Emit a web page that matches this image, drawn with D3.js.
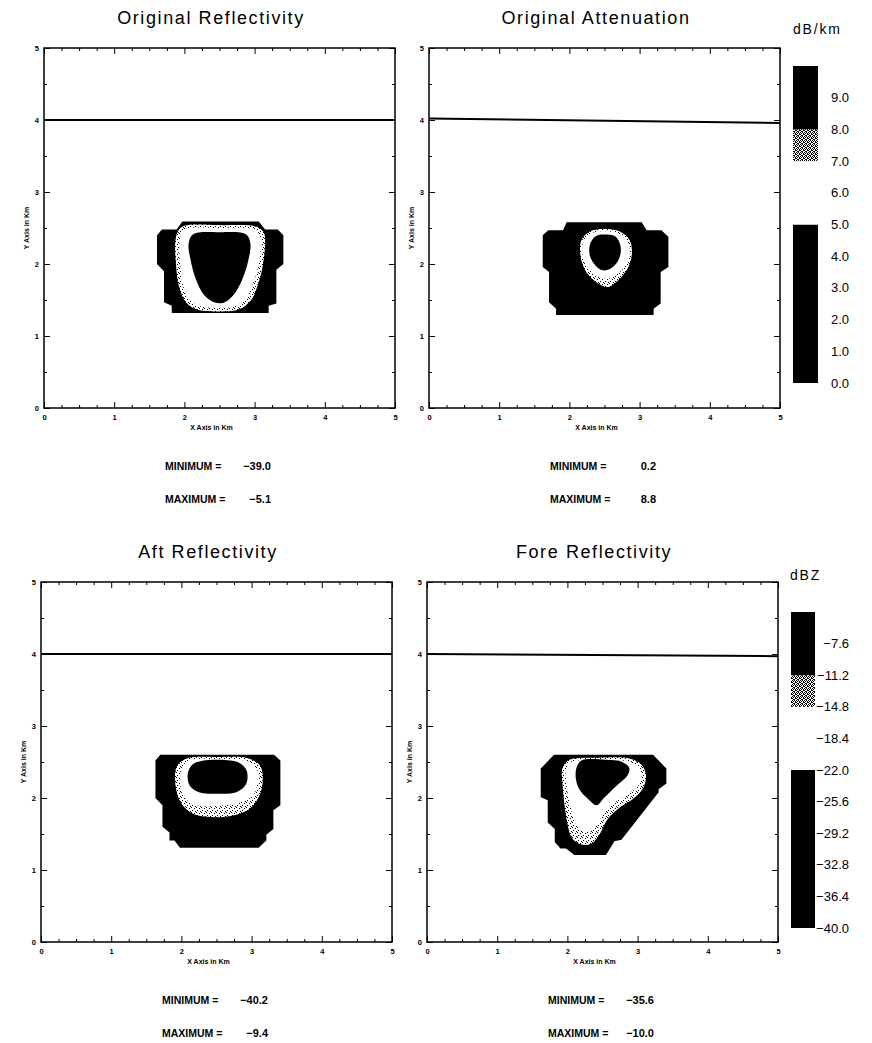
<!DOCTYPE html>
<html>
<head>
<meta charset="utf-8">
<script src="https://cdn.jsdelivr.net/npm/d3@7"></script>
<style>
    body { margin: 0; background: #fff; }
    text { font-family: "Liberation Sans", "DejaVu Sans", sans-serif; fill: #000; }
</style>
</head>
<body>
<div id="chart"></div>
<script>
const width = 872;
const height = 1043;

// パネルのタイトルと最小・最大値
const panelTitles = ["Original Reflectivity", "Original Attenuation", "Aft Reflectivity", "Fore Reflectivity"];
const minimumValues = [-39.0, 0.2, -40.2, -35.6];
const maximumValues = [-5.1, 8.8, -9.4, -10.0];

// 軸の目盛り (km)
const xTickValues = [0, 1, 2, 3, 4, 5];
const yTickValues = [0, 1, 2, 3, 4, 5];

// 4 km の水平線 (x=0 と x=5 での y 値)
const levelLine = [[4.00, 4.00], [4.02, 3.96], [4.00, 4.00], [4.00, 3.97]];

// 等値線の外形 [x km, y km]
const outerContour = [
    [[1.97, 2.59], [3.06, 2.59], [3.15, 2.48], [3.33, 2.48], [3.41, 2.40], [3.41, 2.00], [3.31, 1.92], [3.31, 1.45], [3.20, 1.42], [3.20, 1.32], [1.82, 1.32], [1.82, 1.42], [1.71, 1.47], [1.71, 1.90], [1.61, 2.00], [1.61, 2.40], [1.68, 2.48], [1.89, 2.48]],
    [[1.96, 2.58], [3.03, 2.58], [3.10, 2.47], [3.31, 2.47], [3.41, 2.38], [3.41, 1.96], [3.30, 1.89], [3.30, 1.45], [3.20, 1.38], [3.20, 1.29], [1.81, 1.29], [1.81, 1.38], [1.71, 1.47], [1.71, 1.89], [1.62, 1.96], [1.62, 2.40], [1.70, 2.47], [1.91, 2.47]],
    [[1.70, 2.60], [3.32, 2.60], [3.41, 2.52], [3.41, 1.90], [3.31, 1.83], [3.31, 1.57], [3.21, 1.49], [3.21, 1.41], [3.10, 1.31], [1.98, 1.31], [1.90, 1.41], [1.83, 1.41], [1.83, 1.52], [1.73, 1.60], [1.73, 1.90], [1.63, 2.00], [1.63, 2.52]],
    [[1.81, 2.60], [3.22, 2.60], [3.41, 2.41], [3.41, 2.20], [3.30, 2.12], [3.30, 2.08], [2.77, 1.42], [2.67, 1.40], [2.55, 1.21], [2.10, 1.21], [1.98, 1.30], [1.90, 1.30], [1.82, 1.39], [1.82, 1.57], [1.72, 1.66], [1.72, 1.97], [1.62, 2.01], [1.62, 2.41]]
];

const ringContour = [
    [[2.00, 2.53], [2.50, 2.54], [3.02, 2.52], [3.13, 2.44], [3.15, 2.30], [3.12, 2.00], [3.07, 1.78], [2.95, 1.50], [2.78, 1.37], [2.50, 1.34], [2.17, 1.37], [2.02, 1.47], [1.92, 1.70], [1.88, 2.00], [1.87, 2.30], [1.91, 2.46]],
    [[2.50, 2.49], [2.72, 2.45], [2.86, 2.33], [2.89, 2.14], [2.84, 1.96], [2.72, 1.80], [2.55, 1.68], [2.41, 1.73], [2.24, 1.89], [2.16, 2.10], [2.17, 2.33], [2.29, 2.45]],
    [[2.08, 2.55], [2.51, 2.57], [2.96, 2.55], [3.12, 2.45], [3.16, 2.24], [3.10, 2.01], [2.96, 1.84], [2.70, 1.75], [2.36, 1.74], [2.13, 1.80], [1.98, 1.96], [1.91, 2.24], [1.94, 2.45]],
    [[2.03, 2.53], [2.45, 2.56], [2.88, 2.55], [3.05, 2.47], [3.12, 2.32], [3.08, 2.14], [2.95, 2.00], [2.75, 1.87], [2.57, 1.70], [2.45, 1.48], [2.33, 1.36], [2.18, 1.36], [2.06, 1.45], [2.00, 1.65], [1.96, 1.90], [1.93, 2.20], [1.93, 2.42]]
];

const innerContour = [
    [[2.03, 2.49], [2.50, 2.50], [2.99, 2.48], [3.07, 2.41], [3.09, 2.30], [3.06, 2.00], [3.00, 1.79], [2.89, 1.54], [2.74, 1.42], [2.50, 1.39], [2.20, 1.42], [2.07, 1.51], [1.98, 1.71], [1.94, 2.00], [1.93, 2.30], [1.96, 2.43]],
    [[2.50, 2.46], [2.70, 2.42], [2.83, 2.31], [2.86, 2.14], [2.80, 1.98], [2.68, 1.86], [2.53, 1.79], [2.42, 1.83], [2.27, 1.93], [2.19, 2.10], [2.20, 2.31], [2.30, 2.42]],
    [[2.10, 2.52], [2.51, 2.54], [2.94, 2.51], [3.07, 2.41], [3.09, 2.24], [3.02, 2.03], [2.84, 1.94], [2.51, 1.89], [2.17, 1.91], [2.03, 2.03], [1.98, 2.24], [2.01, 2.42]],
    [[2.05, 2.50], [2.45, 2.52], [2.85, 2.51], [3.00, 2.44], [3.06, 2.32], [3.01, 2.17], [2.86, 2.05], [2.66, 1.93], [2.52, 1.78], [2.40, 1.60], [2.30, 1.53], [2.20, 1.55], [2.11, 1.65], [2.05, 1.85], [2.00, 2.10], [1.98, 2.40]]
];

const coreContour = [
    [[2.12, 2.41], [2.50, 2.44], [2.88, 2.41], [2.94, 2.28], [2.91, 2.05], [2.83, 1.80], [2.70, 1.57], [2.55, 1.46], [2.42, 1.47], [2.28, 1.57], [2.16, 1.80], [2.09, 2.05], [2.06, 2.28]],
    [[2.50, 2.41], [2.66, 2.38], [2.73, 2.24], [2.71, 2.08], [2.61, 1.95], [2.49, 1.91], [2.38, 1.97], [2.29, 2.12], [2.30, 2.29], [2.38, 2.39]],
    [[2.27, 2.51], [2.55, 2.53], [2.82, 2.49], [2.93, 2.38], [2.92, 2.19], [2.78, 2.08], [2.51, 2.06], [2.25, 2.08], [2.12, 2.17], [2.09, 2.33], [2.15, 2.46]],
    [[2.20, 2.52], [2.55, 2.53], [2.78, 2.50], [2.88, 2.42], [2.86, 2.32], [2.70, 2.17], [2.52, 2.00], [2.42, 1.90], [2.30, 1.98], [2.17, 2.12], [2.12, 2.27], [2.13, 2.42]]
];

// カラーバー (減衰 dB/km)
const attenTicks = [0.0, 1.0, 2.0, 3.0, 4.0, 5.0, 6.0, 7.0, 8.0, 9.0];
const attenBands = [0, 5, 7, 8, 10];
// カラーバー (反射強度 dBZ)
const dbzTicks = [-40.0, -36.4, -32.8, -29.2, -25.6, -22.0, -18.4, -14.8, -11.2, -7.6];
const dbzBands = [-40, -22, -14.8, -11.2, -4];

// 帯の塗り (下から順)
const bandFill = ["#000", "#fff", "url(#speckDense)", "#000"];

// レイアウト
const panelLeft = [44, 429, 41, 427];
const panelTop = [48, 48, 582, 582];
const pw = 351;
const ph = 360;

const svg = d3
    .select("#chart")
    .append("svg")
    .attr("width", width)
    .attr("height", height);

svg.append("rect").attr("width", width).attr("height", height).attr("fill", "#fff");

// 網点パターン
const defs = svg.append("defs");

function addPattern(id, size, dots) {
    const p = defs.append("pattern")
        .attr("id", id)
        .attr("width", size)
        .attr("height", size)
        .attr("patternUnits", "userSpaceOnUse");
    p.append("rect").attr("width", size).attr("height", size).attr("fill", "#fff");
    dots.forEach(function (d) {
        p.append("rect").attr("x", d[0]).attr("y", d[1]).attr("width", 1).attr("height", 1).attr("fill", "#000");
    });
}
addPattern("speck", 5, [[0, 0], [3, 1], [1, 3], [4, 4]]);
addPattern("speckDense", 4, [[0, 0], [2, 0], [1, 1], [3, 1], [0, 2], [3, 2], [1, 3], [2, 3]]);

const fmt = d3.format(".1f");

panelTitles.forEach(function (title, i) {
    const g = svg.append("g")
        .attr("transform", `translate(${panelLeft[i]},${panelTop[i]})`);

    const x = d3.scaleLinear().domain([0, 5]).range([0, pw]);
    const y = d3.scaleLinear().domain([0, 5]).range([ph, 0]);

    const straight = d3.line()
        .x(function (d) { return x(d[0]); })
        .y(function (d) { return y(d[1]); })
        .curve(d3.curveLinearClosed);

    const smooth = d3.line()
        .x(function (d) { return x(d[0]); })
        .y(function (d) { return y(d[1]); })
        .curve(d3.curveCatmullRomClosed.alpha(0.5));

    // 等値線領域
    g.append("path").attr("d", straight(outerContour[i])).attr("fill", "#000");
    g.append("path").attr("d", smooth(ringContour[i])).attr("fill", "url(#speck)");
    g.append("path").attr("d", smooth(innerContour[i])).attr("fill", "#fff");
    g.append("path").attr("d", smooth(coreContour[i])).attr("fill", "#000");

    // 4 km の線
    g.append("line")
        .attr("x1", x(0)).attr("x2", x(5))
        .attr("y1", y(levelLine[i][0])).attr("y2", y(levelLine[i][1]))
        .attr("stroke", "#000")
        .attr("stroke-width", 2);

    const minorX = d3.range(0, 5.001, 0.25).filter(function (v) { return v % 1 !== 0; });
    const minorY = d3.range(0.5, 5, 1);

    function styleAxis(sel) {
        sel.select(".domain").remove();
        sel.selectAll("line").attr("stroke", "#000").attr("stroke-width", 1);
        sel.attr("font-family", "'DejaVu Sans', sans-serif")
            .attr("font-size", 7.5)
            .attr("font-weight", "bold");
    }

    // 下
    g.append("g").attr("transform", `translate(0,${ph})`)
        .call(d3.axisBottom(x).tickValues(xTickValues).tickSize(-6).tickPadding(7).tickFormat(d3.format("d")))
        .call(styleAxis);
    g.append("g").attr("transform", `translate(0,${ph})`)
        .call(d3.axisBottom(x).tickValues(minorX).tickSize(-3).tickFormat(""))
        .call(styleAxis);
    // 上
    g.append("g")
        .call(d3.axisTop(x).tickValues(xTickValues).tickSize(-6).tickFormat(""))
        .call(styleAxis);
    g.append("g")
        .call(d3.axisTop(x).tickValues(minorX).tickSize(-3).tickFormat(""))
        .call(styleAxis);
    // 左
    g.append("g")
        .call(d3.axisLeft(y).tickValues(yTickValues).tickSize(-6).tickPadding(5).tickFormat(d3.format("d")))
        .call(styleAxis);
    g.append("g")
        .call(d3.axisLeft(y).tickValues(minorY).tickSize(-3).tickFormat(""))
        .call(styleAxis);
    // 右
    g.append("g").attr("transform", `translate(${pw},0)`)
        .call(d3.axisRight(y).tickValues(yTickValues).tickSize(-6).tickFormat(""))
        .call(styleAxis);
    g.append("g").attr("transform", `translate(${pw},0)`)
        .call(d3.axisRight(y).tickValues(minorY).tickSize(-3).tickFormat(""))
        .call(styleAxis);

    // 枠
    g.append("rect")
        .attr("width", pw).attr("height", ph)
        .attr("fill", "none")
        .attr("stroke", "#000")
        .attr("stroke-width", 1.5);

    // 軸ラベル
    g.append("text")
        .attr("x", pw / 2 - 8).attr("y", ph + 20)
        .attr("text-anchor", "middle").attr("dy", "0.35em")
        .attr("font-family", "'DejaVu Sans', sans-serif")
        .attr("font-size", 7).attr("font-weight", "bold")
        .text("X Axis in Km");

    g.append("text")
        .attr("transform", `translate(-17,${ph / 2}) rotate(-90)`)
        .attr("text-anchor", "middle").attr("dy", "0.35em")
        .attr("font-family", "'DejaVu Sans', sans-serif")
        .attr("font-size", 7).attr("font-weight", "bold")
        .text("Y Axis in Km");

    // タイトル
    g.append("text")
        .attr("x", 167).attr("y", -30)
        .attr("text-anchor", "middle").attr("dy", "0.35em")
        .attr("font-size", 18)
        .attr("letter-spacing", 1.6)
        .text(title);

    // 最小・最大
    [["MINIMUM", minimumValues[i], 418], ["MAXIMUM", maximumValues[i], 451]].forEach(function (row) {
        g.append("text")
            .attr("x", 121).attr("y", row[2]).attr("dy", "0.35em")
            .attr("font-size", 10.5).attr("font-weight", "bold")
            .text(row[0] + "  =");
        g.append("text")
            .attr("x", 227).attr("y", row[2]).attr("dy", "0.35em")
            .attr("text-anchor", "end")
            .attr("font-size", 11)
            .attr("font-weight", "bold")
            .text(fmt(row[1]));
    });
});

// カラーバー描画
function drawColorbar(bands, ticks, x0, barW, yBottom, yTop, labelX, anchor, unit, unitX, unitY) {
    const scale = d3.scaleLinear()
        .domain([bands[0], bands[bands.length - 1]])
        .range([yBottom, yTop]);

    const cb = svg.append("g");

    cb.selectAll("rect")
        .data(d3.pairs(bands))
        .enter()
        .append("rect")
        .attr("x", x0)
        .attr("width", barW)
        .attr("y", function (d) { return scale(d[1]); })
        .attr("height", function (d) { return scale(d[0]) - scale(d[1]); })
        .attr("fill", function (d, k) { return bandFill[k]; });

    cb.selectAll("text.tick")
        .data(ticks)
        .enter()
        .append("text")
        .attr("class", "tick")
        .attr("x", labelX)
        .attr("y", function (d) { return scale(d); })
        .attr("dy", "0.35em")
        .attr("text-anchor", anchor)
        .attr("font-size", 13)
        .text(function (d) { return fmt(d); });

    cb.append("text")
        .attr("x", unitX).attr("y", unitY).attr("dy", "0.35em")
        .attr("font-size", 14)
        .attr("letter-spacing", 1.8)
        .text(unit);
}

drawColorbar(attenBands, attenTicks, 793, 25, 383, 66, 831, "start", "dB/km", 793, 29);
drawColorbar(dbzBands, dbzTicks, 791, 24, 928, 612, 849, "end", "dBZ", 790, 575);
</script>
</body>
</html>
